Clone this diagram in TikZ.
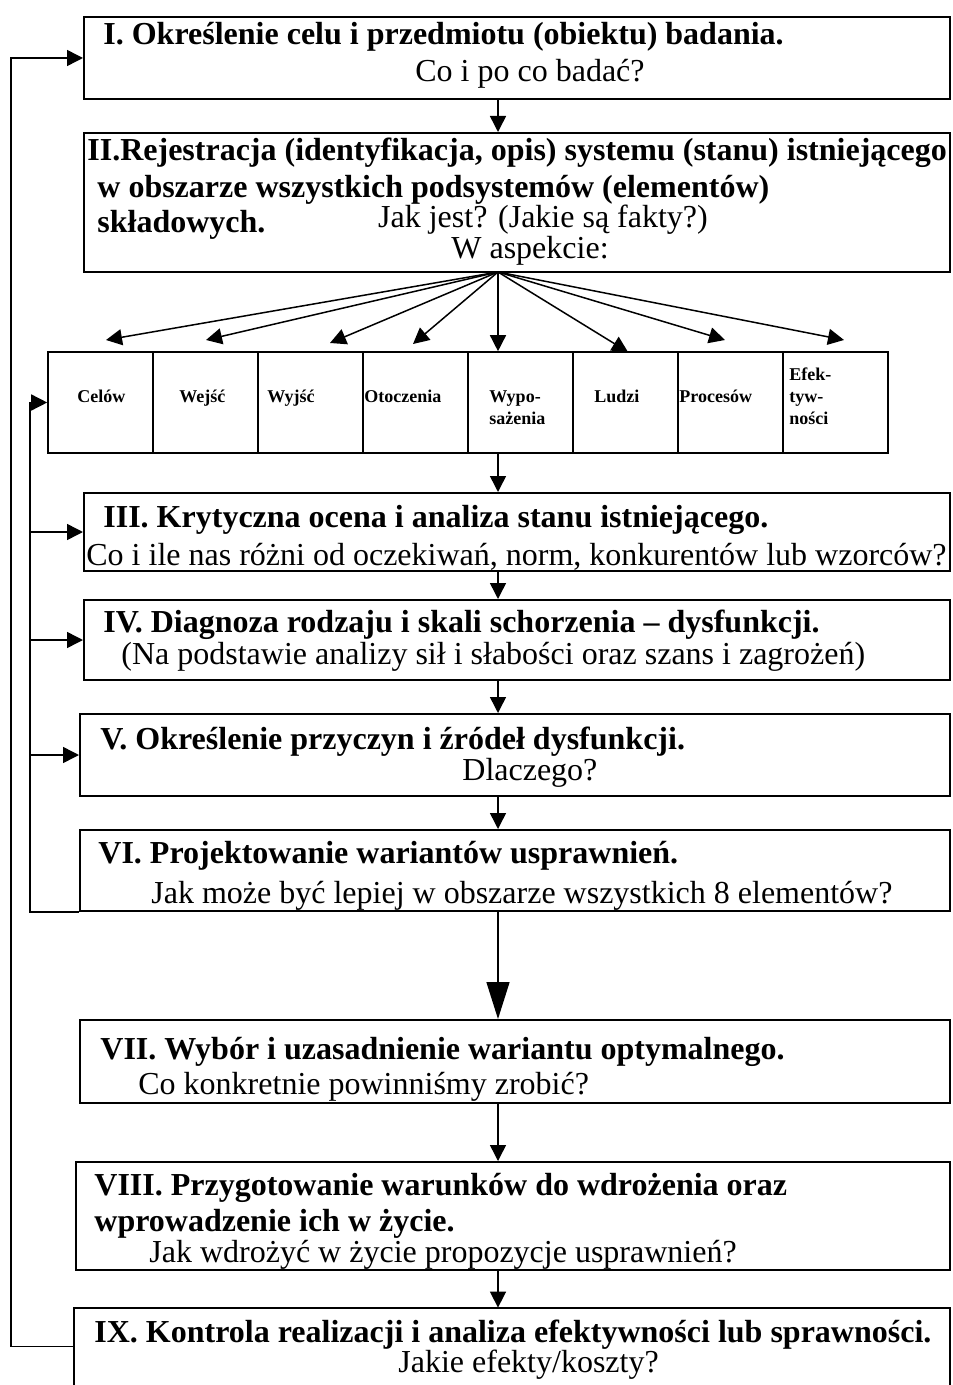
\documentclass[tikz,border=0pt]{standalone}
\usepackage{fontspec}
\setmainfont{Liberation Serif}
\usetikzlibrary{arrows.meta,fit}

\begin{document}
\begin{tikzpicture}[x=0.5pt,y=-0.5pt,
  box/.style={draw,line width=1pt,inner sep=0pt},
  cell/.style={draw,line width=0.8pt,inner sep=0pt},
  head/.style={inner sep=0pt,font=\fontsize{16}{19}\selectfont\bfseries},
  txt/.style={inner sep=0pt,font=\fontsize{16}{19}\selectfont},
  small/.style={inner sep=0pt,align=left,font=\fontsize{9}{11}\selectfont\bfseries},
  arr/.style={line width=0.75pt,-{Triangle[length=8pt,width=8pt]}},
  bigarr/.style={line width=0.75pt,-{Triangle[length=18.5pt,width=11.5pt]}}]
\useasboundingbox (0,0) rectangle (952,1385);

\node[box,fit={(84,17) (950,99)}] (s1) {};
\node[box,fit={(84,133) (950,272)}] (s2) {};
\node[box,fit={(84,493) (950,571)}] (s3) {};
\node[box,fit={(84,600) (950,680)}] (s4) {};
\node[box,fit={(80,714) (950,796)}] (s5) {};
\node[box,fit={(80,830) (950,911)}] (s6) {};
\node[box,fit={(80,1020) (950,1103)}] (s7) {};
\node[box,fit={(76,1162) (950,1270)}] (s8) {};
\node[inner sep=0pt,fit={(74,1308) (950,1385)}] (s9) {};
\draw[line width=1pt] (s9.south west) -- (s9.north west) -- (s9.north east) -- (s9.south east);

\foreach \x [count=\n] in {48,153,258,363,468,573,678,783}
  \node[cell,fit={(\x,352) (\x+105,453)}] (c\n) {};

\node[head,anchor=base west] (t1a) at (103,45) {I. Określenie celu i przedmiotu (obiektu) badania.};
\node[txt,anchor=base] (t1b) at (530,82) {Co i po co badać?};
\node[head,anchor=base west] (t2a) at (87,161) {II.Rejestracja (identyfikacja, opis) systemu (stanu) istniejącego};
\node[head,anchor=base west] (t2b) at (97,198) {w obszarze wszystkich podsystemów (elementów)};
\node[head,anchor=base west] (t2c) at (97,233) {składowych.};
\node[txt,anchor=base] (t2d) at (543,228) {Jak jest? (Jakie są fakty?)};
\node[txt,anchor=base] (t2e) at (530,259) {W aspekcie:};

\node[small,anchor=base west] (e1) at (77,402) {Celów};
\node[small,anchor=base west] (e2) at (179,402) {Wejść};
\node[small,anchor=base west] (e3) at (267,402) {Wyjść};
\node[small,anchor=base west] (e4) at (364,402) {Otoczenia};
\node[small,anchor=base west] (e5) at (489,424) {Wypo-\\sażenia};
\node[small,anchor=base west] (e6) at (594,402) {Ludzi};
\node[small,anchor=base west] (e7) at (679,402) {Procesów};
\node[small,anchor=base west] (e8) at (789,424) {Efek-\\tyw-\\ności};

\node[head,anchor=base west] (t3a) at (103,527) {III. Krytyczna ocena i analiza stanu istniejącego.};
\node[txt,anchor=base west] (t3b) at (86,565) {Co i ile nas różni od oczekiwań, norm, konkurentów lub wzorców?};
\node[head,anchor=base west] (t4a) at (103,632) {IV. Diagnoza rodzaju i skali schorzenia – dysfunkcji.};
\node[txt,anchor=base west] (t4b) at (121,664) {(Na podstawie analizy sił i słabości oraz szans i zagrożeń)};
\node[head,anchor=base west] (t5a) at (100,749) {V. Określenie przyczyn i źródeł dysfunkcji.};
\node[txt,anchor=base west] (t5b) at (462,780) {Dlaczego?};
\node[head,anchor=base west] (t6a) at (98,863) {VI. Projektowanie wariantów usprawnień.};
\node[txt,anchor=base west] (t6b) at (151,903) {Jak może być lepiej w obszarze wszystkich 8 elementów?};
\node[head,anchor=base west] (t7a) at (100,1059) {VII. Wybór i uzasadnienie wariantu optymalnego.};
\node[txt,anchor=base west] (t7b) at (138,1094) {Co konkretnie powinniśmy zrobić?};
\node[head,anchor=base west] (t8a) at (94,1195) {VIII. Przygotowanie warunków do wdrożenia oraz};
\node[head,anchor=base west] (t8b) at (94,1231) {wprowadzenie ich w życie.};
\node[txt,anchor=base west] (t8c) at (149,1262) {Jak wdrożyć w życie propozycje usprawnień?};
\node[head,anchor=base west] (t9a) at (94,1342) {IX. Kontrola realizacji i analiza efektywności lub sprawności.};
\node[txt,anchor=base west] (t9b) at (398,1372) {Jakie efekty/koszty?};

\coordinate (fan) at (498,272);
\coordinate (a1) at (106,340);
\coordinate (a2) at (206,340);
\coordinate (a3) at (330,343);
\coordinate (a4) at (413,344);
\coordinate (a6) at (628,352);
\coordinate (a7) at (725,340);
\coordinate (a8) at (844,340);
\coordinate (lo) at (11,0);
\coordinate (li) at (30,0);

\foreach \n in {1,2,3,4,6,7,8}
  \draw[arr] (fan) -- (a\n);
\draw[arr] (fan) -- (fan |- c5.north);

\draw[arr] (fan |- s1.south) -- (fan |- s2.north);
\draw[arr] (fan |- c5.south) -- (fan |- s3.north);
\draw[arr] (fan |- s3.south) -- (fan |- s4.north);
\draw[arr] (fan |- s4.south) -- (fan |- s5.north);
\draw[arr] (fan |- s5.south) -- (fan |- s6.north);
\draw[bigarr] (fan |- s6.south) -- (fan |- s7.north);
\draw[arr] (fan |- s7.south) -- (fan |- s8.north);
\draw[arr] (fan |- s8.south) -- (fan |- s9.north);

\draw[arr] (s9.west) -- (s9.west -| lo) -- (s1.west -| lo) -- (s1.west);
\draw[arr] (s6.south west) -- (s6.south west -| li) -- (c1.west -| li) -- (c1.west);
\foreach \n in {3,4,5}
  \draw[arr] (s\n.west -| li) -- (s\n.west);
\end{tikzpicture}
\end{document}
